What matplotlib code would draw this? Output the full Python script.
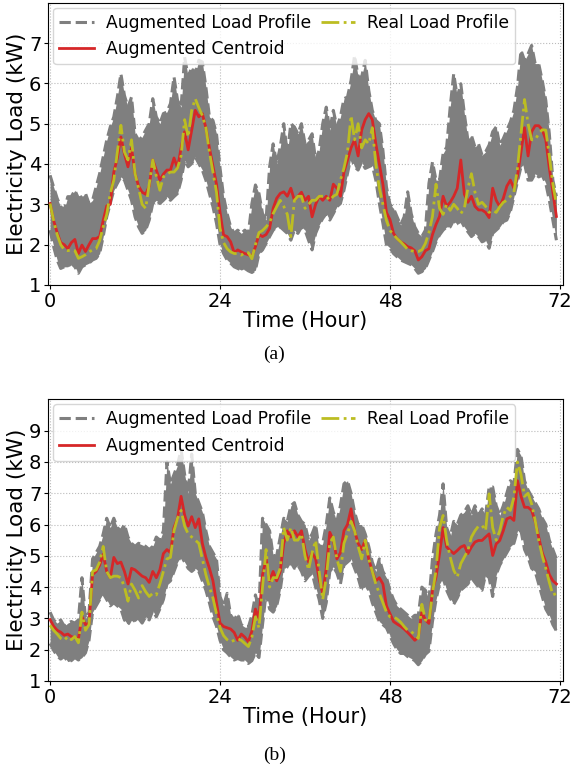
import numpy as np
import matplotlib
matplotlib.use("Agg")
import matplotlib.pyplot as plt

# ---------------- data (half-hour resolution, 0 .. 71.5 h) ----------------
hours = np.arange(144) * 0.5
xticks = [0, 24, 48, 72]

# Panel (a)
a_centroid = [3.02, 2.6, 2.3, 2.05, 2.0, 1.9, 2.05, 2.13, 1.78, 1.99, 1.83, 2.0, 2.15, 2.15, 2.2, 2.6, 2.96, 3.0, 3.8, 4.15, 4.67, 4.25, 3.93, 4.4, 3.76, 3.45, 3.3, 3.25, 3.45, 4.1, 3.85, 3.6, 3.75, 3.85, 3.85, 4.15, 3.9, 4.4, 4.8, 4.35, 4.84, 5.33, 5.17, 5.25, 4.9, 4.4, 3.95, 3.5,
              2.8, 2.24, 2.2, 2.07, 1.8, 1.87, 1.82, 1.78, 1.75, 1.7, 1.95, 2.25, 2.2, 2.25, 2.4, 2.9, 3.15, 3.27, 3.31, 3.2, 3.4, 3.1, 3.2, 3.3, 3.1, 3.2, 2.69, 3.0, 3.2, 3.1, 3.2, 3.1, 3.5, 3.4, 3.2, 3.8, 4.1, 4.4, 4.6, 4.2, 4.84, 5.1, 5.25, 5.1, 4.5, 4.0, 3.5, 2.8,
              2.62, 2.28, 2.15, 2.07, 2.02, 1.95, 1.92, 1.85, 1.62, 1.7, 1.85, 1.9, 2.25, 2.5, 2.7, 3.2, 2.95, 3.05, 3.2, 3.4, 4.1, 3.25, 3.05, 3.2, 2.95, 2.86, 2.86, 2.8, 2.67, 3.4, 3.1, 2.94, 3.15, 3.45, 3.6, 3.4, 3.7, 4.3, 4.9, 4.2, 4.8, 4.95, 4.95, 4.85, 4.6, 3.9, 3.3, 2.7]
a_real = [3.02, 2.6, 2.25, 2.0, 1.87, 1.85, 1.87, 1.85, 1.66, 1.7, 1.75, 1.82, 1.87, 1.9, 2.1, 2.44, 2.75, 3.27, 3.6, 4.3, 4.96, 4.3, 4.1, 4.6, 3.76, 3.4, 3.0, 2.9, 3.5, 4.1, 3.7, 3.35, 3.68, 3.75, 3.8, 3.8, 3.9, 4.2, 5.1, 4.67, 5.33, 5.62, 5.4, 5.2, 4.9, 4.3, 3.8, 3.3,
          2.4, 2.05, 1.9, 1.82, 1.78, 1.78, 1.74, 1.8, 1.8, 1.65, 2.0, 2.3, 2.35, 2.44, 2.55, 2.77, 2.94, 3.1, 2.95, 2.75, 2.2, 3.1, 3.2, 3.2, 2.9, 3.0, 3.1, 3.1, 3.2, 3.2, 3.2, 3.1, 3.2, 3.25, 3.6, 3.9, 4.3, 5.2, 4.6, 5.0, 4.4, 4.6, 4.5, 4.9, 4.0, 3.4, 3.0, 2.6,
          2.35, 2.25, 2.15, 2.07, 1.98, 1.88, 1.85, 1.83, 1.83, 1.87, 2.03, 2.3, 2.7, 3.5, 2.9, 2.75, 3.0, 2.85, 3.0, 2.9, 2.77, 2.9, 3.4, 3.76, 3.3, 3.0, 3.05, 2.95, 2.8, 2.85, 2.8, 2.94, 3.05, 3.1, 3.2, 3.3, 3.9, 4.75, 5.6, 5.0, 4.6, 4.6, 4.75, 4.85, 4.84, 4.2, 3.5, 3.0]
a_aug_upper = [3.72, 3.43, 3.15, 2.94, 2.86, 3.19, 3.19, 3.35, 3.15, 3.19, 3.27, 3.02, 3.1, 3.43, 3.76, 4.18, 4.59, 4.92, 5.17, 5.66, 6.24, 5.7, 5.41, 5.66, 4.75, 4.59, 4.67, 4.84, 5.0, 5.62, 5.17, 5.0, 5.25, 5.29, 5.5, 6.16, 5.58, 5.41, 6.65, 6.16, 6.4, 6.24, 6.57, 6.53, 5.91, 5.17, 5.08, 4.75,
               3.9, 3.19, 2.77, 2.44, 2.28, 2.36, 2.28, 2.36, 2.28, 3.02, 3.48, 3.27, 2.77, 2.61, 3.93, 4.5, 4.01, 4.42, 5.0, 4.26, 5.0, 4.92, 4.75, 5.0, 4.5, 4.59, 4.75, 4.09, 4.34, 5.0, 5.41, 4.84, 5.33, 4.92, 5.17, 5.62, 5.66, 6.07, 6.69, 6.16, 6.16, 6.57, 5.83, 5.33, 5.08, 5.0, 4.34, 3.43,
               3.0, 2.9, 2.69, 2.49, 2.69, 3.31, 2.77, 2.44, 2.28, 2.2, 2.36, 3.52, 4.05, 3.6, 3.6, 4.26, 4.42, 5.41, 6.24, 5.66, 5.99, 5.25, 4.59, 4.71, 4.42, 4.5, 4.22, 4.3, 4.47, 4.8, 4.92, 4.47, 4.63, 4.84, 5.04, 5.33, 5.91, 6.82, 6.57, 6.73, 6.94, 6.49, 6.49, 6.07, 5.58, 4.75, 3.6, 3.2]
a_aug_lower = [2.36, 1.95, 1.62, 1.41, 1.45, 1.45, 1.54, 1.45, 1.29, 1.45, 1.5, 1.54, 1.62, 1.66, 1.78, 2.2, 2.69, 3.02, 3.35, 3.52, 3.68, 3.6, 3.35, 3.1, 2.69, 2.44, 2.28, 2.36, 2.61, 3.02, 3.1, 3.02, 3.1, 3.19, 3.1, 3.19, 3.27, 3.6, 4.09, 3.93, 4.01, 4.18, 4.01, 3.85, 3.6, 3.27, 2.94, 2.53,
               2.0, 1.78, 1.62, 1.54, 1.45, 1.41, 1.37, 1.41, 1.35, 1.31, 1.37, 1.78, 1.87, 2.03, 2.2, 2.36, 2.44, 2.44, 2.36, 2.28, 2.11, 2.36, 2.28, 2.44, 2.36, 2.11, 1.87, 2.28, 2.49, 2.65, 2.77, 2.61, 2.77, 2.94, 3.02, 3.35, 3.76, 4.18, 3.93, 3.85, 4.05, 3.89, 3.93, 3.97, 3.6, 3.02, 2.53, 2.0,
               1.92, 1.78, 1.7, 1.62, 1.58, 1.54, 1.5, 1.41, 1.29, 1.33, 1.41, 1.62, 1.83, 2.07, 2.24, 2.36, 2.44, 2.44, 2.61, 2.49, 2.61, 2.44, 2.32, 2.2, 2.28, 2.2, 2.07, 2.11, 1.91, 2.28, 2.36, 2.44, 2.57, 2.61, 2.82, 3.19, 3.56, 3.93, 4.01, 3.6, 3.6, 3.76, 3.68, 3.72, 3.52, 3.1, 2.61, 2.11]

# Panel (b)
b_centroid = [2.96, 2.75, 2.62, 2.56, 2.46, 2.5, 2.42, 2.38, 2.35, 3.05, 2.8, 2.85, 4.4, 4.5, 4.7, 5.05, 4.5, 4.3, 4.95, 4.75, 4.8, 4.5, 4.1, 4.6, 4.55, 4.45, 4.35, 4.3, 4.15, 4.5, 4.3, 4.55, 5.07, 5.2, 5.1, 5.9, 6.2, 6.9, 6.3, 5.95, 6.25, 5.9, 6.18, 5.4, 4.95, 4.6, 4.2, 3.5,
              2.85, 2.74, 2.7, 2.66, 2.55, 2.3, 2.5, 2.4, 2.25, 2.6, 3.3, 3.0, 4.4, 4.9, 4.2, 4.5, 4.2, 4.5, 5.4, 5.8, 5.6, 5.8, 5.6, 5.8, 5.2, 4.8, 5.1, 4.9, 4.25, 3.8, 4.6, 5.75, 5.5, 4.9, 5.1, 5.8, 6.0, 6.5, 5.8, 5.4, 5.2, 5.5, 4.9, 4.5, 4.2, 4.3, 4.1, 3.4,
              3.15, 2.9, 2.82, 2.75, 2.66, 2.55, 2.43, 2.3, 2.4, 3.2, 2.95, 2.84, 3.9, 4.32, 5.07, 5.9, 5.28, 5.17, 5.07, 5.17, 5.28, 5.33, 5.07, 5.28, 5.44, 5.49, 5.49, 5.6, 5.7, 5.01, 5.38, 5.49, 5.8, 6.18, 6.23, 6.13, 7.4, 6.9, 6.55, 6.55, 6.45, 6.1, 5.6, 5.1, 4.8, 4.4, 4.2, 4.1]
b_real = [2.78, 2.62, 2.5, 2.36, 2.3, 2.42, 2.32, 2.42, 2.22, 3.2, 2.62, 2.8, 4.5, 4.55, 4.8, 5.3, 4.5, 4.3, 4.35, 4.35, 4.3, 4.0, 3.55, 4.1, 3.9, 3.65, 4.05, 3.85, 3.7, 3.8, 3.75, 4.1, 4.5, 4.9, 4.95, 5.8, 6.2, 6.45, 5.95, 5.7, 5.6, 5.5, 5.4, 4.9, 4.4, 4.0, 3.65, 3.15,
          2.7, 2.45, 2.32, 2.25, 2.3, 2.35, 2.3, 2.2, 2.1, 2.4, 3.05, 2.7, 4.0, 5.2, 4.0, 4.3, 4.3, 4.6, 5.9, 5.5, 5.9, 5.5, 5.5, 5.7, 5.0, 4.55, 5.1, 5.49, 4.5, 3.6, 4.3, 5.4, 5.6, 4.9, 4.5, 5.4, 5.7, 6.1, 5.8, 5.3, 4.9, 5.5, 4.9, 4.5, 4.1, 3.8, 3.5, 3.2,
          3.05, 3.05, 2.98, 2.88, 2.74, 2.62, 2.58, 2.47, 2.36, 3.45, 2.95, 2.9, 3.8, 4.54, 5.9, 6.29, 5.5, 4.96, 4.54, 4.32, 4.75, 4.96, 5.17, 5.6, 5.8, 5.95, 5.97, 5.8, 6.98, 5.9, 5.5, 5.8, 6.29, 6.55, 6.45, 6.87, 8.0, 7.6, 6.9, 7.0, 6.66, 6.13, 5.5, 5.0, 4.6, 4.15, 3.75, 3.8]
b_aug_upper = [3.2, 2.95, 2.85, 2.95, 2.75, 2.85, 2.9, 2.85, 2.95, 4.3, 3.0, 3.2, 4.9, 5.1, 5.3, 5.7, 6.2, 5.9, 6.2, 5.9, 5.8, 6.0, 5.6, 5.4, 5.3, 5.4, 5.35, 5.3, 5.2, 5.3, 5.6, 5.5, 5.8, 8.0, 7.3, 7.6, 7.9, 8.4, 7.6, 7.0, 8.25, 7.0, 6.7, 6.4, 5.8, 5.3, 5.1, 4.9,
               3.7, 3.4, 3.8, 3.1, 2.95, 3.15, 2.8, 2.72, 2.72, 3.1, 3.75, 3.3, 6.2, 6.0, 5.8, 5.0, 5.0, 5.6, 6.2, 6.1, 6.6, 6.7, 6.3, 6.1, 6.0, 5.5, 5.7, 6.0, 5.2, 5.4, 6.0, 6.85, 6.4, 6.1, 6.6, 7.3, 7.4, 7.0, 6.4, 6.0, 6.0, 5.7, 5.3, 4.8, 4.5, 4.9, 4.5, 4.3,
               3.9, 3.6, 3.4, 3.3, 3.2, 3.1, 3.0, 3.1, 3.1, 4.0, 3.9, 3.6, 4.9, 5.7, 6.3, 7.3, 5.9, 5.6, 6.1, 6.0, 6.3, 6.4, 6.6, 6.3, 6.6, 6.3, 6.5, 6.3, 7.2, 7.2, 6.6, 6.3, 6.6, 7.0, 7.4, 7.3, 8.4, 8.2, 7.4, 7.1, 6.9, 6.7, 6.5, 6.2, 6.0, 5.5, 5.2, 4.9]
b_aug_lower = [2.2, 1.98, 1.8, 1.7, 1.78, 1.62, 1.65, 1.75, 1.67, 1.75, 1.9, 2.3, 3.2, 3.4, 3.6, 3.8, 3.6, 3.4, 3.5, 3.4, 3.3, 2.95, 2.8, 3.0, 2.9, 3.0, 2.85, 3.05, 2.95, 3.25, 3.05, 3.3, 3.6, 4.1, 4.2, 4.5, 4.8, 5.0, 4.8, 4.6, 4.5, 4.6, 4.5, 4.2, 3.9, 3.5, 3.05, 2.75,
               2.3, 2.0, 1.9, 1.77, 1.67, 1.72, 1.67, 1.67, 1.56, 1.65, 1.9, 1.75, 2.8, 3.8, 3.3, 3.2, 3.4, 3.9, 4.7, 4.6, 4.8, 4.6, 4.7, 4.5, 4.2, 4.35, 4.45, 4.0, 3.6, 3.0, 3.5, 4.5, 4.65, 4.45, 4.1, 4.7, 4.8, 4.9, 4.6, 4.3, 3.9, 4.1, 3.9, 3.5, 3.2, 2.9, 2.8, 2.7,
               2.45, 2.2, 2.0, 1.88, 1.88, 1.78, 1.72, 1.65, 1.52, 1.65, 1.85, 1.95, 2.9, 3.6, 4.1, 4.3, 3.9, 3.65, 3.45, 3.65, 3.9, 4.0, 4.1, 4.3, 4.15, 4.0, 3.9, 4.4, 4.3, 3.7, 4.4, 4.7, 4.9, 5.1, 5.3, 5.4, 5.8, 5.8, 5.2, 4.95, 4.6, 4.5, 4.1, 3.7, 3.3, 3.1, 2.8, 2.6]

panels = [
    dict(centroid=a_centroid, real=a_real, upper=a_aug_upper, lower=a_aug_lower,
         ylim=(1, 8), yticks=[1, 2, 3, 4, 5, 6, 7], caption="(a)"),
    dict(centroid=b_centroid, real=b_real, upper=b_aug_upper, lower=b_aug_lower,
         ylim=(1, 10), yticks=[1, 2, 3, 4, 5, 6, 7, 8, 9], caption="(b)"),
]

GRAY = "#7f7f7f"
RED = "#d62728"
OLIVE = "#bcbd22"

fig = plt.figure(figsize=(5.71, 7.70), dpi=100)
axes_pos = [[0.0846, 0.6299, 0.901, 0.3666], [0.0846, 0.1156, 0.901, 0.3658]]
caption_y = [1 - 354 / 770, 1 - 755 / 770]

for p, pos, cy in zip(panels, axes_pos, caption_y):
    ax = fig.add_axes(pos)
    ax.fill_between(hours, p["lower"], p["upper"], color=GRAY, lw=0, zorder=2)
    ax.plot(hours, p["upper"], color=GRAY, ls="--", lw=2.2, zorder=2,
            label="Augmented Load Profile")
    ax.plot(hours, p["lower"], color=GRAY, ls="--", lw=2.2, zorder=2)
    ax.plot(hours, p["centroid"], color=RED, lw=2.0, zorder=3,
            label="Augmented Centroid")
    ax.plot(hours, p["real"], color=OLIVE, ls="-.", lw=2.0, zorder=4,
            label="Real Load Profile")
    ax.set_xlim(-0.25, 72.4)
    ax.set_ylim(*p["ylim"])
    ax.set_xticks(xticks)
    ax.set_yticks(p["yticks"])
    ax.tick_params(labelsize=14, length=3, pad=2)
    ax.grid(True, ls=":", color="#bbbbbb", lw=0.8, zorder=0)
    ax.set_axisbelow(True)
    ax.set_xlabel("Time (Hour)", fontsize=15, labelpad=0)
    ax.set_ylabel("Electricity Load (kW)", fontsize=15.5, labelpad=1)
    ax.legend(loc="upper left", ncol=2, fontsize=12.3, columnspacing=0.6,
              handlelength=2.0, borderaxespad=0.3, framealpha=0.8,
              borderpad=0.35, handletextpad=0.7)
    fig.text(0.48, cy, p["caption"], ha="center", va="center",
             fontsize=14, family="Liberation Serif")

fig.savefig("out.png", dpi=100)
